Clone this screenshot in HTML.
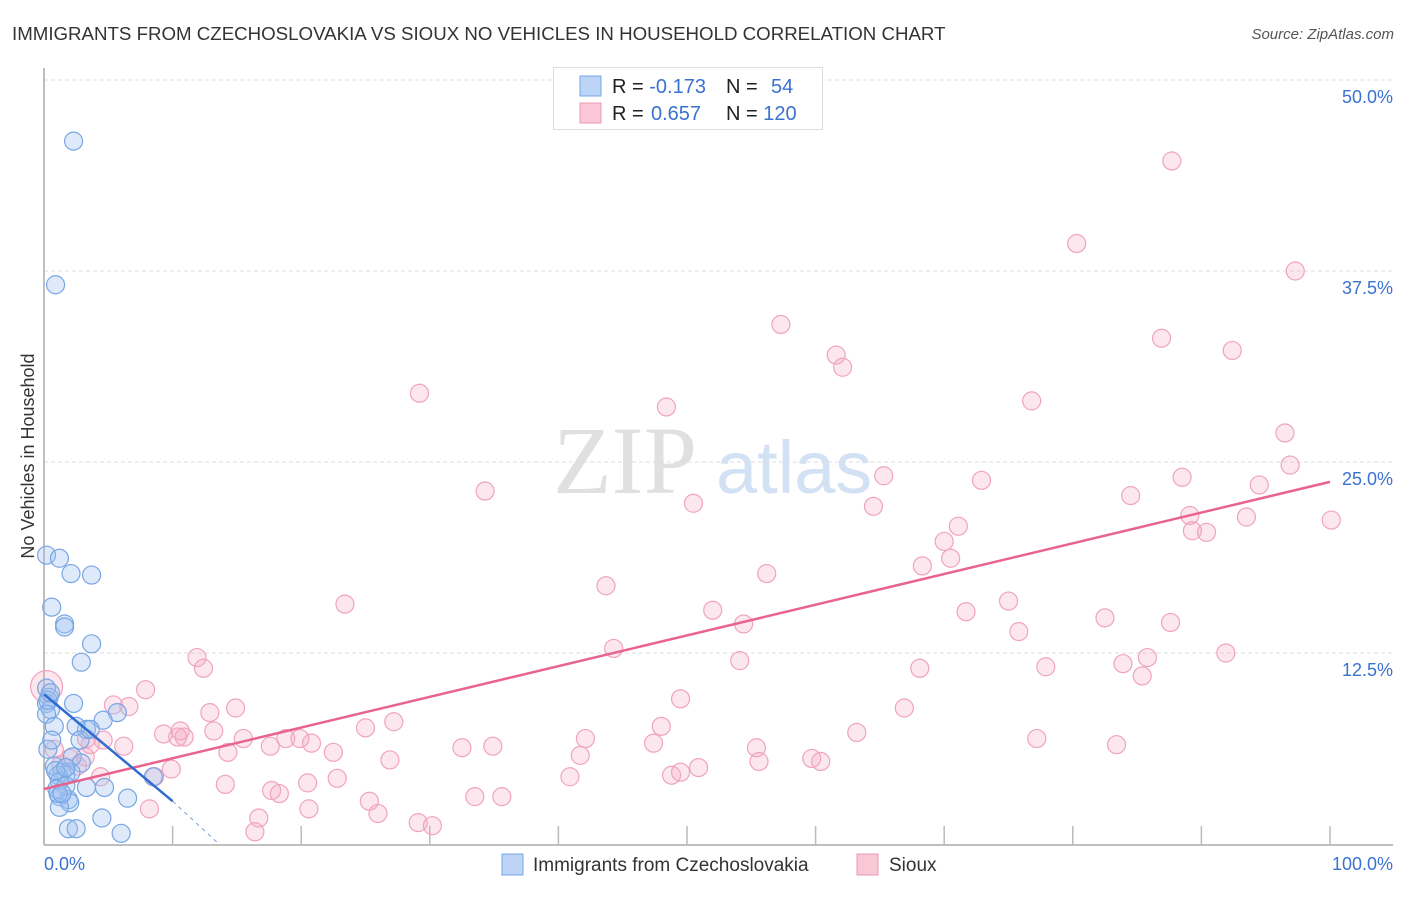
<!DOCTYPE html>
<html><head><meta charset="utf-8"><style>
body{margin:0;background:#fff;font-family:"Liberation Sans",sans-serif;}
svg text{font-family:"Liberation Sans",sans-serif;}
</style></head><body>
<svg id="chart" width="1406" height="892" viewBox="0 0 1406 892">
<text x="12" y="40" font-size="18.7" fill="#333">IMMIGRANTS FROM CZECHOSLOVAKIA VS SIOUX NO VEHICLES IN HOUSEHOLD CORRELATION CHART</text>
<text x="1394" y="39" font-size="15" fill="#555" font-style="italic" text-anchor="end">Source: ZipAtlas.com</text>
<g>
<text x="553" y="493" font-size="96" fill="#e0e0e0" font-family="Liberation Serif" style="font-family:'Liberation Serif',serif">ZIP</text>
<text x="716" y="493" font-size="74" fill="#d2e1f3">atlas</text>
</g>
<g id="grid"></g>
<line x1="44" y1="68" x2="44" y2="845" stroke="#aaa" stroke-width="1.5"/>
<line x1="44" y1="845" x2="1393" y2="845" stroke="#aaa" stroke-width="1.5"/>
<g id="xticks"></g>
<g id="points"></g>
<g id="trends"></g>
<text transform="translate(34,456) rotate(-90)" font-size="18" fill="#333" text-anchor="middle">No Vehicles in Household</text>
<text x="44" y="870" font-size="18" fill="#3a72d0">0.0%</text>
<text x="1393" y="870" font-size="18" fill="#3a72d0" text-anchor="end">100.0%</text>
<g>
<rect x="553.5" y="67.5" width="269" height="62" fill="#fff" stroke="#ddd"/>
<rect x="580" y="76" width="21" height="20" fill="#bcd4f5" stroke="#7aa6e6"/>
<rect x="580" y="103" width="21" height="20" fill="#f9c7d6" stroke="#eb9ab4"/>
<text x="612" y="93" font-size="20" fill="#222">R = <tspan fill="#3a72d0">-0.173</tspan></text>
<text x="726" y="93" font-size="20" fill="#222">N = <tspan fill="#3a72d0" x="771">54</tspan></text>
<text x="612" y="120" font-size="20" fill="#222">R = <tspan fill="#3a72d0" x="651">0.657</tspan></text>
<text x="726" y="120" font-size="20" fill="#222">N = <tspan fill="#3a72d0">120</tspan></text>
</g>
<g>
<rect x="502" y="854" width="21" height="21" fill="#bcd4f5" stroke="#7aa6e6"/>
<text x="533" y="871" font-size="19" fill="#333">Immigrants from Czechoslovakia</text>
<rect x="857" y="854" width="21" height="21" fill="#f9c7d6" stroke="#eb9ab4"/>
<text x="889" y="871" font-size="19" fill="#333">Sioux</text>
</g>
</svg>
<script>
const yTicks=[12.5,25,37.5,50];
const yTickLabels=["12.5%","25.0%","37.5%","50.0%"];
const xTicks=[10,20,30,40,50,60,70,80,90,100];
const czechX=[2.3,0.9,0.2,1.2,2.1,3.7,0.6,1.6,1.6,3.7,2.9,0.2,0.4,0.2,0.5,2.3,0.2,5.7,4.6,0.8,3.3,2.5,2.2,2.9,0.8,1.4,2.1,1.7,1.1,1.2,1.0,1.7,4.7,3.3,6.5,1.2,1.9,2.0,1.2,4.5,1.9,2.5,6.0,8.5,0.3,0.9,1.7,1.1,1.4,0.3,0.5,0.6,2.8,3.6];
const czechY=[46.0,36.6,18.9,18.7,17.7,17.6,15.5,14.4,14.2,13.1,11.9,10.2,9.6,9.2,8.8,9.2,8.5,8.6,8.1,7.7,7.5,7.7,5.7,5.3,5.1,4.7,4.7,4.5,4.5,4.1,3.6,3.8,3.7,3.7,3.0,3.1,2.9,2.7,2.4,1.7,1.0,1.0,0.7,4.4,6.2,4.8,5.0,3.3,3.3,9.4,9.9,6.8,6.8,7.5];
const siouxX=[87.7,80.3,97.3,57.3,86.9,61.6,62.1,92.4,29.2,48.4,76.8,96.5,65.3,96.9,34.3,72.9,88.5,50.5,64.5,84.5,94.5,100.1,71.1,89.1,93.5,70.0,89.3,90.4,70.5,68.3,56.2,43.7,23.4,52.0,71.7,75.0,82.5,87.6,54.4,75.8,44.3,91.9,11.9,12.4,54.1,68.1,77.9,83.9,85.8,85.4,7.9,5.4,6.6,14.9,12.9,49.5,66.9,27.2,10.9,25.0,48.0,9.3,10.4,10.6,13.2,15.5,4.6,3.3,3.6,6.2,17.6,18.8,19.9,20.8,14.3,22.5,0.8,42.1,47.4,55.4,63.2,77.2,83.4,32.5,34.9,41.7,26.9,59.7,60.4,55.6,49.5,2.0,1.3,9.9,4.4,8.6,22.8,20.5,40.9,48.8,50.9,14.1,17.7,18.3,35.6,33.5,8.2,25.3,16.7,25.97,29.1,30.2,16.4,20.6,3.2,2.6,0.2];
const siouxY=[44.7,39.3,37.5,34.0,33.1,32.0,31.2,32.3,29.5,28.6,29.0,26.9,24.1,24.8,23.1,23.8,24.0,22.3,22.1,22.8,23.5,21.2,20.8,21.5,21.4,19.8,20.5,20.4,18.7,18.2,17.7,16.9,15.7,15.3,15.2,15.9,14.8,14.5,14.4,13.9,12.8,12.5,12.2,11.5,12.0,11.5,11.6,11.8,12.2,11.0,10.1,9.1,9.0,8.9,8.6,9.5,8.9,8.0,7.0,7.6,7.7,7.2,7.0,7.4,7.4,6.9,6.8,6.9,6.5,6.4,6.4,6.9,6.9,6.6,6.0,6.0,6.2,6.9,6.6,6.3,7.3,6.9,6.5,6.3,6.4,5.8,5.5,5.6,5.4,5.4,4.7,5.6,5.2,4.9,4.4,4.4,4.3,4.0,4.4,4.5,5.0,3.9,3.5,3.3,3.1,3.1,2.3,2.8,1.7,2.0,1.4,1.2,0.8,2.3,5.7,5.1,10.3];
const czechTrend=[[0,9.8],[10,2.8]];
const czechTrendExt=[[10,2.8],[13.6,0]];
const siouxTrend=[[0,3.6],[100,23.7]];

const NS='http://www.w3.org/2000/svg';
function xs(v){return 44+v*12.86;}
function ys(v){return 844-v*15.28;}
function mk(tag,attrs,parent){const e=document.createElementNS(NS,tag);for(const k in attrs)e.setAttribute(k,attrs[k]);parent.appendChild(e);return e;}
const grid=document.getElementById('grid');
yTicks.forEach((t,i)=>{
  const l=mk('line',{x1:44,x2:1393,y1:ys(t),y2:ys(t),stroke:'#ddd','stroke-dasharray':'4,3'},grid);
  
  
  const tx=mk('text',{x:1393,y:ys(t)+23,'font-size':18,fill:'#3a72d0','text-anchor':'end'},grid);
  tx.textContent=yTickLabels[i];
  
  
});
const xt=document.getElementById('xticks');
xTicks.forEach(t=>{
  const l=mk('line',{x1:xs(t),x2:xs(t),y1:826,y2:845,stroke:'#bbb','stroke-width':1.5},xt);
  
  
});
const pts=document.getElementById('points');
siouxX.forEach((x,i)=>{
  const c=mk('circle',{cx:xs(x),cy:ys(siouxY[i]),r:i===siouxX.length-1?16:9,fill:'rgba(246,170,196,0.28)',stroke:'#f0a3bd','stroke-width':1.2},pts);
  
  
});
czechX.forEach((x,i)=>{
  const c=mk('circle',{cx:xs(x),cy:ys(czechY[i]),r:9,fill:'rgba(160,196,242,0.35)',stroke:'#78a6e4','stroke-width':1.2},pts);
  
  
});
const tr=document.getElementById('trends');
let l1=mk('line',{x1:xs(siouxTrend[0][0]),y1:ys(siouxTrend[0][1]),x2:xs(siouxTrend[1][0]),y2:ys(siouxTrend[1][1]),stroke:'#e8648f','stroke-width':2.5},tr);


let l2=mk('line',{x1:xs(czechTrend[0][0]),y1:ys(czechTrend[0][1]),x2:xs(czechTrend[1][0]),y2:ys(czechTrend[1][1]),stroke:'#2f6cd0','stroke-width':2.5},tr);


let l3=mk('line',{x1:xs(czechTrendExt[0][0]),y1:ys(czechTrendExt[0][1]),x2:xs(czechTrendExt[1][0]),y2:ys(czechTrendExt[1][1]),stroke:'#7aa0d8','stroke-width':1,'stroke-dasharray':'4,4'},tr);


</script>
</body></html>
